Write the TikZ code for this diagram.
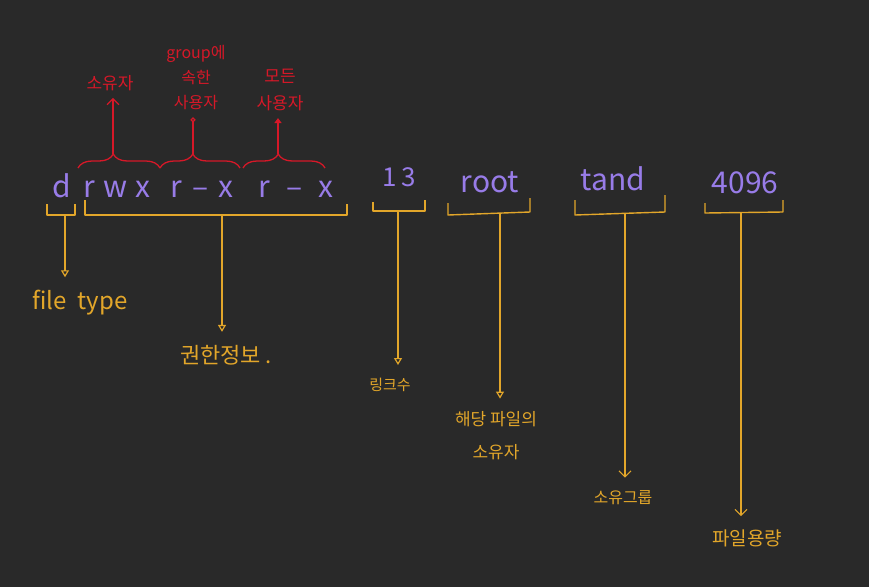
\documentclass[tikz,border=0pt]{standalone}
\usepackage{fontspec}
\setmainfont{Noto Sans CJK KR}
\usetikzlibrary{arrows.meta, decorations.pathreplacing, positioning}
\definecolor{BgColor}{RGB}{41,41,41}
\definecolor{PermPurple}{RGB}{152,124,232}
\definecolor{NoteYellow}{RGB}{226,166,42}
\definecolor{NoteRed}{RGB}{214,24,40}
\tikzset{
  lsfield/.style={text=PermPurple, font=\fontsize{30}{32}\selectfont, inner sep=0pt, anchor=base},
  ylabel/.style={text=NoteYellow, inner sep=1pt, align=center},
  rlabel/.style={text=NoteRed, inner sep=1pt, align=center},
  bracket/.style={NoteYellow, line width=1.4pt, line join=round},
  yarrow/.style={NoteYellow, line width=1.2pt, shorten >=12pt, -{Triangle[open, length=7pt, width=8pt]}},
  rbrace/.style={NoteRed, line width=1.3pt, decorate, decoration={brace, amplitude=14pt, aspect=#1}},
  rarrow/.style={NoteRed, line width=1.2pt, shorten >=6pt},
}

\begin{document}
\begin{tikzpicture}[x=1pt, y=-1pt]
  \fill[BgColor] (0,0) rectangle (869,587);

  % ls -l output line
  \node[lsfield] (ftype) at (62,197) {d};
  \node[lsfield] (uperm) at (117,197) {r\;w\;x};
  \node[lsfield] (gperm) at (202,197) {r\hspace{0.35em}–\hspace{0.35em}x};
  \node[lsfield] (operm) at (296,197) {r\hspace{0.55em}–\hspace{0.55em}x};
  \node[lsfield, font=\fontsize{26}{28}\selectfont] (links) at (399,186) {1\,3};
  \node[lsfield] (owner) at (490,192) {root};
  \node[lsfield] (group) at (613,190) {tand};
  \node[lsfield] (fsize) at (745,193) {4096};

  % yellow brackets under the fields
  \draw[bracket] (47,204) -- (47,215) -- (75,215) -- (75,204);
  \draw[bracket] (85,200) -- (85,215) -- (347,215) -- (347,204);
  \draw[bracket] (373,202) -- (373,211) -- (425,211) -- (425,200);
  \draw[bracket] (448,203) -- (448,215) -- (530,212) -- (530,198);
  \draw[bracket] (575,200) -- (575,215) -- (665,212) -- (665,195);
  \draw[bracket] (705,203) -- (705,213) -- (783,212) -- (783,200);
  \coordinate (ftbr) at (65,215);
  \coordinate (permbr) at (222,215);
  \coordinate (linkbr) at (398,211);
  \coordinate (ownbr) at (500,214);
  \coordinate (grpbr) at (625,213);
  \coordinate (sizebr) at (741,212);

  % yellow labels
  \node[ylabel, font=\fontsize{24}{26}\selectfont] (ftlbl) at (80,303) {file\ \ type};
  \node[ylabel, font=\fontsize{22}{24}\selectfont] (permlbl) at (226,355) {권한정보 .};
  \node[ylabel, font=\fontsize{15}{17}\selectfont] (linklbl) at (390,385) {링크수};
  \node[ylabel, font=\fontsize{17}{33}\selectfont] (ownlbl) at (496,436) {해당 파일의\\소유자};
  \node[ylabel, font=\fontsize{16}{18}\selectfont] (grplbl) at (623,498) {소유그룹};
  \node[ylabel, font=\fontsize{19}{21}\selectfont] (sizelbl) at (747,538) {파일용량};

  \draw[yarrow] (ftbr) -- (ftlbl.north -| ftbr);
  \draw[yarrow] (permbr) -- (permlbl.north -| permbr);
  \draw[yarrow] (linkbr) -- (linklbl.north -| linkbr);
  \draw[yarrow] (ownbr) -- (ownlbl.north -| ownbr);
  \draw[yarrow, -{Straight Barb[length=6pt]}] (grpbr) -- (grplbl.north -| grpbr);
  \draw[yarrow, -{Straight Barb[length=6pt]}] (sizebr) -- (sizelbl.north -| sizebr);

  % red braces over the permission groups
  \draw[rbrace=0.43] (78,168) -- (160,168);
  \draw[rbrace=0.41] (160,168) -- (240,168);
  \draw[rbrace=0.43] (243,168) -- (325,168);
  \coordinate (ubr) at (113,154);
  \coordinate (gbr) at (193,154);
  \coordinate (obr) at (278,154);

  % red labels
  \node[rlabel, font=\fontsize{17}{19}\selectfont] (ulbl) at (110,83) {소유자};
  \node[rlabel, font=\fontsize{16}{25}\selectfont] (glbl) at (196,78) {group에\\속한\\사용자};
  \node[rlabel, font=\fontsize{17}{27}\selectfont] (olbl) at (280,90) {모든\\사용자};

  \draw[rarrow, -{Straight Barb[length=6pt]}] (ubr) -- (ulbl.south -| ubr);
  \draw[rarrow, -{Circle[open, length=5pt]}] (gbr) -- (glbl.south -| gbr);
  \draw[rarrow, -{Triangle[length=5pt]}] (obr) -- (olbl.south -| obr);
\end{tikzpicture}
\end{document}
